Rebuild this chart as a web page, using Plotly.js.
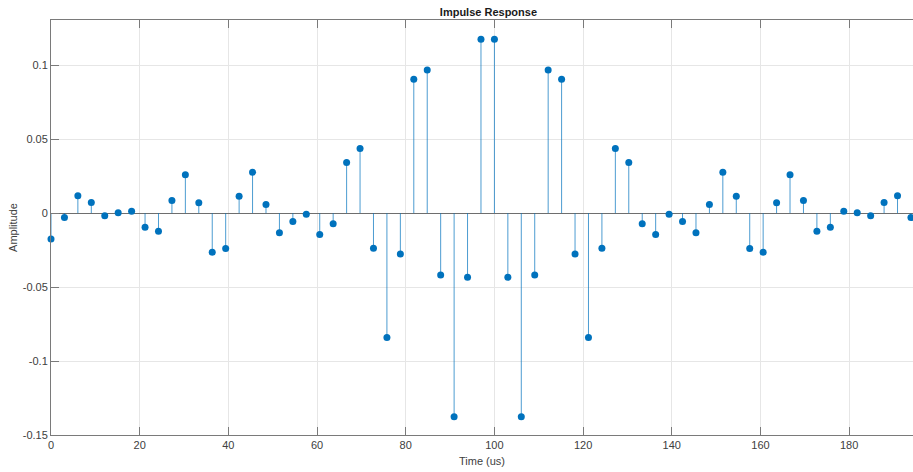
<!DOCTYPE html>
<html>
<head>
<meta charset="utf-8">
<script src="https://cdn.plot.ly/plotly-3.0.1.min.js"></script>
<style>html,body{margin:0;padding:0;background:#fff;}#chart{width:913px;height:472px;}</style>
</head>
<body>
<div id="chart"></div>
<script>
// Sample period in microseconds (fs = 330 kHz)
const samplePeriod = 1000 / 330;
// Impulse response taps (index 0..64 visible)
const amplitude = [
  -0.0175, -0.0030, 0.0117, 0.0072, -0.0018, 0.0002, 0.0013, -0.0095, -0.0123, 0.0085,
  0.0259, 0.0070, -0.0264, -0.0239, 0.0115, 0.0277, 0.0058, -0.0133, -0.0057, -0.0008,
  -0.0144, -0.0072, 0.0342, 0.0437, -0.0237, -0.0840, -0.0277, 0.0905, 0.0968, -0.0419,
  -0.1376, -0.0433, 0.1176, 0.1176, -0.0433, -0.1376, -0.0419, 0.0968, 0.0905, -0.0277,
  -0.0840, -0.0237, 0.0437, 0.0342, -0.0072, -0.0144, -0.0008, -0.0057, -0.0133, 0.0058,
  0.0277, 0.0115, -0.0239, -0.0264, 0.0070, 0.0259, 0.0085, -0.0123, -0.0095, 0.0013,
  0.0002, -0.0018, 0.0072, 0.0117, -0.0030
];
const timeUs = amplitude.map((_, i) => i * samplePeriod);
const yTickVals = [-0.15, -0.1, -0.05, 0, 0.05, 0.1];
const yTickText = ['-0.15', '-0.1', '-0.05', '0', '0.05', '0.1'];
const xTickVals = [0, 20, 40, 60, 80, 100, 120, 140, 160, 180];

const stemX = [], stemY = [];
timeUs.forEach((t, i) => { stemX.push(t, t, null); stemY.push(0, amplitude[i], null); });

const blue = '#0072BD';
const axisCol = '#7a7a7a';
const font = {family: 'Liberation Sans, Arial, sans-serif', size: 11, color: '#404040'};

const traces = [
  {x: stemX, y: stemY, mode: 'lines', line: {color: 'rgba(0,114,189,0.7)', width: 1}, hoverinfo: 'skip', showlegend: false},
  {x: timeUs, y: amplitude, mode: 'markers', marker: {color: blue, size: 7}, showlegend: false, cliponaxis: false}
];

const layout = {
  width: 913, height: 472,
  margin: {l: 51, r: 0, t: 20, b: 37},
  paper_bgcolor: '#fff', plot_bgcolor: '#fff',
  font: font,
  showlegend: false,
  title: {text: '<b>Impulse Response</b>', font: {family: 'Liberation Sans, Arial, sans-serif', size: 11, color: '#1a1a1a'}, x: 0.535, xanchor: 'center', y: 0.975, yanchor: 'middle'},
  xaxis: {
    range: [0, 194.4], tickvals: xTickVals, ticktext: xTickVals.map(String),
    ticks: 'inside', ticklen: 8, tickcolor: axisCol, tickwidth: 1,
    showgrid: true, gridcolor: '#e6e6e6', gridwidth: 1,
    showline: true, linecolor: axisCol, linewidth: 1, mirror: false,
    zeroline: false, tickfont: font,
    title: {text: 'Time (us)', font: font, standoff: 7}
  },
  xaxis2: {
    range: [0, 194.4], tickvals: xTickVals, overlaying: 'x', side: 'top', anchor: 'y',
    ticks: 'inside', ticklen: 8, tickcolor: axisCol, showticklabels: false,
    showgrid: false, showline: true, linecolor: axisCol, zeroline: false
  },
  yaxis: {
    range: [-0.15, 0.1306], tickvals: yTickVals, ticktext: yTickText,
    ticks: 'inside', ticklen: 8, tickcolor: axisCol,
    showgrid: true, gridcolor: '#e6e6e6',
    showline: true, linecolor: axisCol, linewidth: 1, mirror: false,
    zeroline: true, zerolinecolor: '#6e6e6e', zerolinewidth: 1,
    tickfont: font,
    title: {text: 'Amplitude', font: font, standoff: 2}
  }
};

// invisible trace to activate the top axis
traces.push({x: [0], y: [0], xaxis: 'x2', mode: 'markers', marker: {opacity: 0}, hoverinfo: 'skip', showlegend: false});

Plotly.newPlot('chart', traces, layout, {staticPlot: true, displayModeBar: false});
</script>
</body>
</html>
